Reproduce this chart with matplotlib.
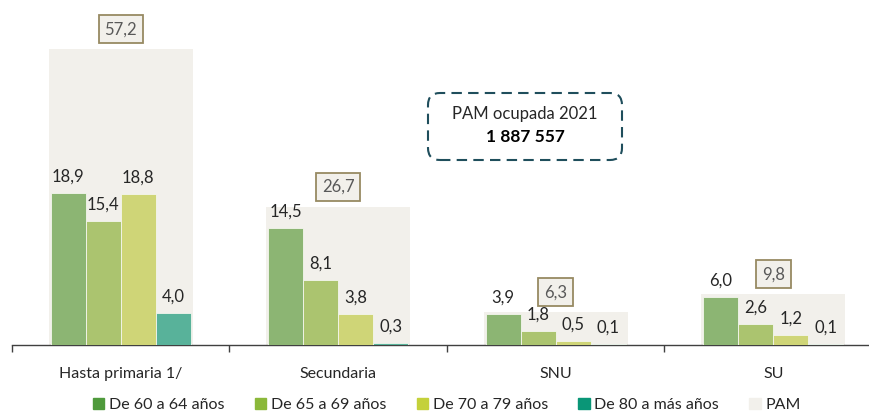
import matplotlib.pyplot as plt
import matplotlib.patches as mpatches
from matplotlib.patches import FancyBboxPatch, Patch
import numpy as np

plt.rcParams['font.family'] = ['Lato', 'DejaVu Sans']

# Data
categories = ['Hasta primaria 1/', 'Secundaria', 'SNU', 'SU']
series_names = ['De 60 a 64 años', 'De 65 a 69 años', 'De 70 a 79 años', 'De 80 a más años']
age_60_64 = [18.9, 14.5, 3.9, 6.0]
age_65_69 = [15.4, 8.1, 1.8, 2.6]
age_70_79 = [18.8, 3.8, 0.5, 1.2]
age_80_mas = [4.0, 0.3, 0.1, 0.1]
pam = [57.2, 26.7, 6.3, 9.8]
pam_total = '1 887 557'

bar_colors = ['#8cb573', '#abc46f', '#cfd577', '#58b29a']
legend_colors = ['#4f9a3c', '#8bb83a', '#c4d13a', '#0a9677']
pam_color = '#f2f0eb'
text_dark = '#262626'

W, H = 870, 412
fig = plt.figure(figsize=(W / 100, H / 100), dpi=100)

# axes run a bit past the right edge, as in the reference crop
ax_pam = fig.add_axes([12 / W, 67 / H, 870 / W, 345 / H])
ax = ax_pam.twinx()

x = np.arange(len(categories))

# PAM background bars (own scale)
ax_pam.bar(x, pam, width=0.66, color=pam_color, zorder=1)
for xi, v in zip(x, pam):
    ax_pam.annotate(f'{v:.1f}'.replace('.', ','), (xi, v), xytext=(0, 14.5),
                    textcoords='offset points', ha='center', va='center',
                    fontsize=12, color='#595959',
                    bbox=dict(boxstyle='square,pad=0.35', fc=pam_color,
                              ec='#978a62', lw=1.3))

# Age group bars
bw = 0.161
all_series = [age_60_64, age_65_69, age_70_79, age_80_mas]
for i, vals in enumerate(all_series):
    pos = x + (i - 1.5) * bw
    ax.bar(pos, vals, width=bw, color=bar_colors[i], edgecolor='#f4f6ee',
           linewidth=0.6, zorder=2)
    for p, v in zip(pos, vals):
        ax.annotate(f'{v:.1f}'.replace('.', ','), (p, v), xytext=(0, 6),
                    textcoords='offset points', ha='center', va='bottom',
                    fontsize=12, color=text_dark)

# Scales
ax_pam.set_xlim(-0.5, 3.5)
ax_pam.set_ylim(0, 345 / 5.17)
ax.set_ylim(0, 345 / 8.04)

for a in (ax_pam, ax):
    for s in ['top', 'left', 'right']:
        a.spines[s].set_visible(False)
    a.set_yticks([])
ax.spines['bottom'].set_visible(False)
ax_pam.spines['bottom'].set_color('#404040')
ax_pam.spines['bottom'].set_linewidth(1.0)

ax_pam.set_xticks(x)
ax_pam.set_xticklabels(categories, fontsize=11.5, color=text_dark)
ax_pam.tick_params(axis='x', which='major', length=0, pad=16)
ax_pam.set_xticks(np.arange(-0.5, 4, 1), minor=True)
ax_pam.tick_params(axis='x', which='minor', length=5, width=1, color='#404040', direction='out')

# Dashed info box
box = FancyBboxPatch((428, H - 160), 194, 67, boxstyle='round,pad=0,rounding_size=12',
                     fc='white', ec='#1f4e5c', lw=1.5, ls=(0, (5, 3)), transform=None)
fig.add_artist(box)
fig.text(525 / W, 1 - 114 / H, 'PAM ocupada 2021', ha='center', va='center',
         fontsize=12, color=text_dark)
fig.text(525 / W, 1 - 137 / H, pam_total, ha='center', va='center',
         fontsize=12.5, fontweight='bold', color='black')

# Legend
handles = [Patch(color=c) for c in legend_colors] + [Patch(color=pam_color)]
labels = series_names + ['PAM']
fig.legend(handles, labels, loc='center', bbox_to_anchor=(447 / W, 1 - 405 / H),
           ncol=5, frameon=False, fontsize=11.5, handlelength=0.7, handleheight=0.7,
           handletextpad=0.3, columnspacing=1.9, labelcolor=text_dark)

fig.savefig('out.png', dpi=100)
